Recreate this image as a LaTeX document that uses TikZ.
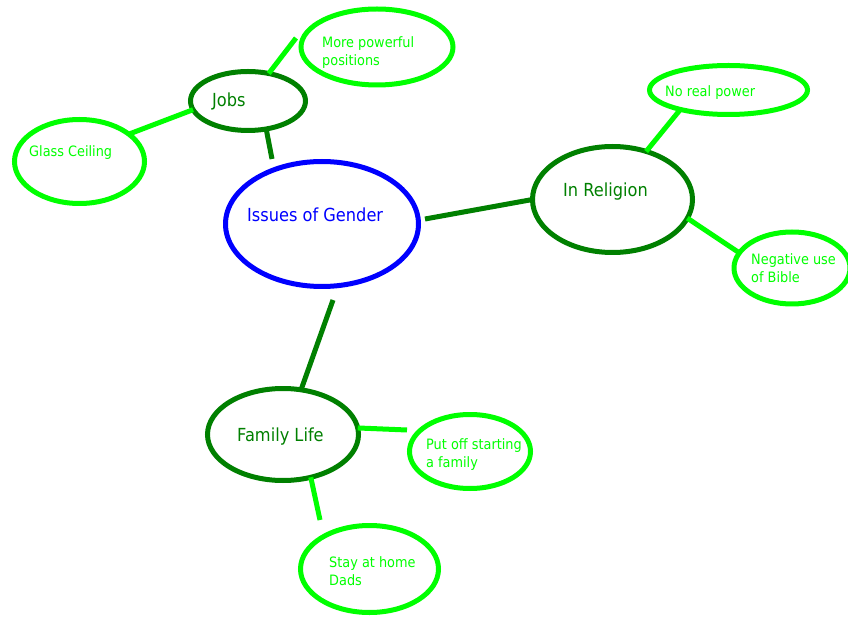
\documentclass[tikz,border=0pt]{standalone}
\usepackage{fontspec}
\setmainfont{DejaVu Sans}[FakeStretch=0.9]
\usetikzlibrary{shapes.geometric}
\definecolor{dkgreen}{RGB}{0,128,0}
\definecolor{ltgreen}{RGB}{0,255,0}
\definecolor{gblue}{RGB}{0,0,255}
\begin{document}
\begin{tikzpicture}[x=1pt,y=-1pt,
  bubble/.style={ellipse, draw, line width=5pt, inner sep=0pt, outer sep=0pt},
  mainbubble/.style={bubble, draw=gblue},
  topicbubble/.style={bubble, draw=dkgreen},
  leafbubble/.style={bubble, draw=ltgreen},
  labeltext/.style={anchor=base west, inner sep=0pt, align=left},
  maintext/.style={labeltext, text=gblue, font=\fontsize{18}{18}\selectfont},
  topictext/.style={labeltext, text=dkgreen, font=\fontsize{18}{18}\selectfont},
  leaftext/.style={labeltext, text=ltgreen, font=\fontsize{14.3}{18}\selectfont},
  topiclink/.style={draw=dkgreen, line width=5pt},
  leaflink/.style={draw=ltgreen, line width=5pt}]
\useasboundingbox[fill=white] (0,0) rectangle (848,617);

% ellipses
\node[mainbubble, minimum width=193pt, minimum height=125pt] (gender) at (322,224) {};
\node[topicbubble, minimum width=115pt, minimum height=59pt] (jobs) at (248,101) {};
\node[leafbubble, minimum width=152pt, minimum height=76pt] (more) at (377,47) {};
\node[leafbubble, minimum width=130pt, minimum height=84pt] (glass) at (79.5,161.5) {};
\node[topicbubble, minimum width=160pt, minimum height=106pt] (religion) at (612.5,199.5) {};
\node[leafbubble, minimum width=158pt, minimum height=49pt] (noreal) at (728.5,90) {};
\node[leafbubble, minimum width=116pt, minimum height=72pt] (negative) at (792,268) {};
\node[topicbubble, minimum width=151pt, minimum height=92pt] (family) at (283,434.5) {};
\node[leafbubble, minimum width=121pt, minimum height=74pt] (putoff) at (470,451.5) {};
\node[leafbubble, minimum width=138pt, minimum height=87pt] (stay) at (369.5,569) {};

% texts (multi-line nodes: base = last line)
\node[maintext] (gendertxt) at (247,222) {Issues of Gender};
\node[topictext] (jobstxt) at (212,107) {Jobs};
\node[topictext] (religiontxt) at (563,197) {In Religion};
\node[topictext] (familytxt) at (237,441) {Family Life};
\node[leaftext] (moretxt) at (322,66) {More powerful\\positions};
\node[leaftext] (glasstxt) at (29,157) {Glass Ceiling};
\node[leaftext] (norealtxt) at (665,97) {No real power};
\node[leaftext] (negativetxt) at (751,283) {Negative use\\of Bible};
\node[leaftext] (putofftxt) at (426,467) {Put off starting\\a family};
\node[leaftext] (staytxt) at (329,585) {Stay at home\\Dads};

% free ends
\coordinate (jobsend) at (272,159);
\coordinate (moreend) at (296,38);
\coordinate (genderright) at (425,219);
\coordinate (genderbottom) at (333,300);
\coordinate (putoffend) at (407,430);
\coordinate (stayend) at (320,520);

% connectors
\draw[leaflink] (jobs.53.7) -- (moreend);
\draw[topiclink] (jobs.-57) -- (jobsend);
\draw[leaflink] (jobs.189) -- (glass.29);
\draw[topiclink] (genderright) -- (religion.180);
\draw[leaflink] (religion.55) -- (noreal.202);
\draw[leaflink] (religion.-14.5) -- (negative.164);
\draw[topiclink] (genderbottom) -- (family.68);
\draw[leaflink] (family.5.7) -- (putoffend);
\draw[leaflink] (family.-57) -- (stayend);
\end{tikzpicture}
\end{document}
